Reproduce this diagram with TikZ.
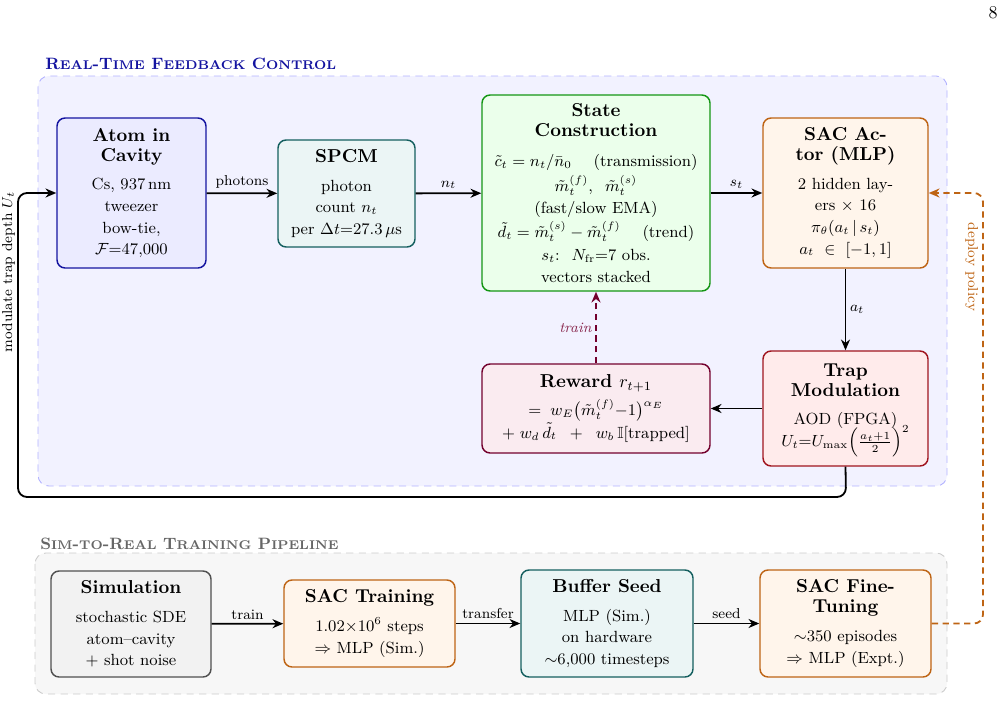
\documentclass[tikz,border=0pt]{standalone}
\usepackage{amsmath,amssymb}
\usetikzlibrary{arrows.meta}
\newdimen\pxu \pxu=0.556pt
\newcommand{\hd}[1]{{\fontsize{10.4pt}{12pt}\selectfont\bfseries #1}}
\newcommand{\fsc}[2]{#1{\fontsize{7.05pt}{9pt}\selectfont #2}}
\definecolor{cblue}{RGB}{20,20,160}
\definecolor{cteal}{RGB}{20,95,95}
\definecolor{cgreen}{RGB}{20,150,20}
\definecolor{corange}{RGB}{190,100,20}
\definecolor{cred}{RGB}{160,20,30}
\definecolor{cmaroon}{RGB}{115,0,45}
\definecolor{cgray}{RGB}{80,80,80}
\begin{document}
\begin{tikzpicture}[x=0.556pt,y=-0.556pt,
  box/.style={rectangle, rounded corners=4.5pt, line width=0.8pt, align=center, font=\small, inner sep=0pt},
  sz/.style 2 args={minimum width={#1*\pxu}, minimum height={#2*\pxu}},
  arr/.style={-{Stealth[length=6pt,width=5pt]}, line width=1pt},
  lbl/.style={font=\footnotesize, inner sep=2pt},
  frame/.style={rounded corners=6pt, dashed, dash pattern=on 4pt off 3pt, line width=0.5pt}]
\useasboundingbox (0,0) rectangle (1007,724);
% page number
\node[font=\normalsize] (pg) at (993,13) {8};
% frames
\draw[frame, draw=blue!30, fill=blue!5] (38,76) rectangle (947,486);
\node[anchor=base west, inner sep=0pt, text=cblue, font=\fontsize{9.15pt}{11pt}\selectfont\bfseries] (t1) at (45,69)
  {\fsc{R}{EAL}-\fsc{T}{IME} \fsc{F}{EEDBACK} \fsc{C}{ONTROL}};
\draw[frame, draw=black!20, fill=black!3] (35,553) rectangle (947,694);
\node[anchor=base west, inner sep=0pt, text=black!60, font=\fontsize{9.15pt}{11pt}\selectfont\bfseries] (t2) at (40,549)
  {\fsc{S}{IM}-{\fontsize{7.05pt}{9pt}\selectfont TO}-\fsc{R}{EAL} \fsc{T}{RAINING} \fsc{P}{IPELINE}};
% top boxes
\node[box, sz={149}{150}, draw=cblue, fill=blue!8] (atom) at (131.5,193)
  {\hd{Atom in}\\\hd{Cavity}\\[5pt] Cs, 937\,nm\\[1pt] tweezer\\[1pt] bow-tie,\\[1pt] $\mathcal{F}{=}47{,}000$};
\node[box, sz={137}{107}, draw=cteal, fill=teal!8] (spcm) at (346.5,193.5)
  {\hd{SPCM}\\[5pt] photon\\[1pt] count $n_t$\\[1pt] per $\Delta t{=}27.3\,\mu$s};
\node[box, sz={228}{196}, draw=cgreen, fill=green!8] (state) at (596,193)
  {\hd{State}\\\hd{Construction}\\[6pt]
   $\tilde c_t = n_t/\bar n_0$ \quad (transmission)\\[1.5pt]
   $\tilde m_t^{(f)},\;\; \tilde m_t^{(s)}$\\[1pt]
   (fast/slow EMA)\\[1pt]
   $\tilde d_t = \tilde m_t^{(s)} - \tilde m_t^{(f)}$ \quad (trend)\\[2pt]
   $s_t$:\; $N_{\mathrm{fr}}{=}7$ obs.\\[1pt]
   vectors stacked};
\node[box, sz={165}{150}, draw=corange, fill=orange!8] (actor) at (845.5,193)
  {\hd{SAC Ac-}\\\hd{tor (MLP)}\\[5pt] 2 hidden lay-\\[1pt] ers $\times$ 16\\[1pt] $\pi_\theta(a_t\,|\,s_t)$\\[1pt] $a_t\ \in\ [-1,1]$};
\node[box, sz={165}{115}, draw=cred, fill=red!8] (trap) at (845.5,408.5)
  {\hd{Trap}\\\hd{Modulation}\\[4.5pt] AOD (FPGA)\\[1.5pt] \smash{$U_t{=}U_{\max}\Bigl(\frac{a_t+1}{2}\Bigr)^{2}$}\rule[-3.5pt]{0pt}{3.5pt}};
\node[box, sz={228}{89}, draw=cmaroon, fill=purple!8] (reward) at (596,408.5)
  {\hd{Reward $r_{t+1}$}\\[3pt]
   $=\; w_E\bigl(\tilde m_t^{(f)}{-}1\bigr)^{\alpha_E}$\\
   $+\; w_d\,\tilde d_t \;\;+\;\; w_b\,\mathbb{I}[\text{trapped}]$};
% bottom boxes
\node[box, sz={160}{106}, draw=cgray, fill=black!5] (sim) at (131,624)
  {\hd{Simulation}\\[5pt] stochastic SDE\\[1pt] atom--cavity\\[1pt] $+$ shot noise};
\node[box, sz={171}{87}, draw=corange, fill=orange!8] (train) at (369.5,623.5)
  {\hd{SAC Training}\\[5pt] $1.02{\times}10^{6}$ steps\\[1pt] $\Rightarrow$ MLP (Sim.)};
\node[box, sz={172}{107}, draw=cteal, fill=teal!8] (buffer) at (607,623.5)
  {\hd{Buffer Seed}\\[5pt] MLP (Sim.)\\[1pt] on hardware\\[1pt] $\sim$6,000 timesteps};
\node[box, sz={171}{107}, draw=corange, fill=orange!8] (fine) at (845.5,623.5)
  {\hd{SAC Fine-}\\\hd{Tuning}\\[5pt] $\sim$350 episodes\\[1pt] $\Rightarrow$ MLP (Expt.)};
% arrows top
\draw[arr] (atom) -- node[lbl, above] {photons} (spcm);
\draw[arr] (spcm) -- node[lbl, above] {$n_t$} (state);
\draw[arr] (state) -- node[lbl, above] {$s_t$} (actor);
\draw[arr] (actor) -- node[lbl, right] {$a_t$} (trap);
\draw[arr] (trap) -- (reward);
\draw[arr, dashed, dash pattern=on 3.5pt off 2.5pt, draw=cmaroon] (reward) -- node[lbl, left, text=cmaroon!85, font=\footnotesize\itshape] {train} (state);
% feedback loop
\coordinate (fb1) at (846,497);
\coordinate (fb2) at (18,497);
\coordinate (fb3) at (18,193);
\draw[arr, rounded corners=5pt] (trap.south) -- (fb1) -- (fb2) -- (fb3) -- (atom.west);
\node[lbl, rotate=90, anchor=south, inner sep=1.5pt] (fbl) at (18,272) {modulate trap depth $U_t$};
% bottom arrows
\draw[arr] (sim) -- node[lbl, above] {train} (train);
\draw[arr] (train) -- node[lbl, above] {transfer} (buffer);
\draw[arr] (buffer) -- node[lbl, above] {seed} (fine);
% deploy
\coordinate (dp1) at (983,623.5);
\coordinate (dp2) at (983,193);
\draw[arr, dashed, dash pattern=on 3.5pt off 2.5pt, draw=corange, rounded corners=5pt] (fine.east) -- (dp1) -- (dp2) -- (actor.east);
\node[lbl, rotate=-90, anchor=north, inner sep=2.5pt, text=corange] (dpl) at (983,267) {deploy policy};
\end{tikzpicture}
\end{document}
